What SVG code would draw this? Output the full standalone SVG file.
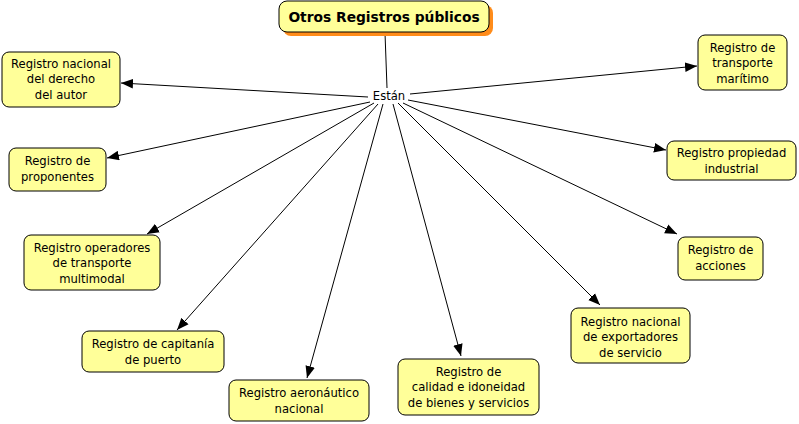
<svg xmlns="http://www.w3.org/2000/svg" width="799" height="424" viewBox="0 0 799 424">
<defs>
<marker id="ah" viewBox="0 0 10 8" refX="10" refY="4" markerWidth="12" markerHeight="10" markerUnits="userSpaceOnUse" orient="auto">
<path d="M0,0 L10,4 L0,8 z" fill="#000"/>
</marker>
</defs>
<style>
.box{fill:#ffff99;stroke:#000;stroke-width:1}
.t{font-family:"DejaVu Sans",Verdana,sans-serif;font-size:11.6px;fill:#000;text-anchor:middle}
.c{stroke:#000;stroke-width:1;fill:none}
.a{marker-end:url(#ah)}
</style>
<rect width="799" height="424" fill="#fff"/>
<g id="connectors">
<line class="c" x1="385" y1="33" x2="387" y2="88"/>
<line class="c a" x1="368" y1="97" x2="121" y2="83"/>
<line class="c a" x1="370" y1="102" x2="107" y2="158"/>
<line class="c a" x1="374" y1="103" x2="147" y2="234"/>
<line class="c a" x1="378" y1="104" x2="177" y2="330"/>
<line class="c a" x1="383" y1="104" x2="307" y2="378"/>
<line class="c a" x1="393" y1="104" x2="461" y2="356"/>
<line class="c a" x1="398" y1="103" x2="600" y2="305"/>
<line class="c a" x1="403" y1="103" x2="677" y2="234"/>
<line class="c a" x1="408" y1="100" x2="666" y2="150"/>
<line class="c a" x1="410" y1="94" x2="697" y2="66"/>
</g>
<g id="title">
<rect x="283" y="5" width="210" height="31" rx="8" fill="#ff8c1a"/>
<rect x="279" y="1" width="210" height="31" rx="8" class="box" stroke-width="1.5"/>
<text x="384" y="22" class="t" style="font-weight:bold;font-size:13.8px">Otros Registros públicos</text>
</g>
<g id="estan">
<text x="389" y="100" class="t">Están</text>
</g>
<g id="n1">
<rect x="2" y="52" width="118" height="55" rx="7" class="box"/>
<text class="t"><tspan x="61" y="68">Registro nacional</tspan><tspan x="61" y="83">del derecho</tspan><tspan x="61" y="99">del autor</tspan></text>
</g>
<g id="n2">
<rect x="9" y="148" width="97" height="43" rx="7" class="box"/>
<text class="t"><tspan x="57.5" y="165">Registro de</tspan><tspan x="57.5" y="181">proponentes</tspan></text>
</g>
<g id="n3">
<rect x="24" y="235" width="136" height="55" rx="7" class="box"/>
<text class="t"><tspan x="92" y="252">Registro operadores</tspan><tspan x="92" y="267">de transporte</tspan><tspan x="92" y="283">multimodal</tspan></text>
</g>
<g id="n4">
<rect x="82" y="331" width="142" height="41" rx="7" class="box"/>
<text class="t"><tspan x="153" y="348">Registro de capitanía</tspan><tspan x="153" y="364">de puerto</tspan></text>
</g>
<g id="n5">
<rect x="229" y="380" width="140" height="41" rx="7" class="box"/>
<text class="t"><tspan x="299" y="397">Registro aeronáutico</tspan><tspan x="299" y="413">nacional</tspan></text>
</g>
<g id="n6">
<rect x="398" y="359" width="141" height="56" rx="7" class="box"/>
<text class="t"><tspan x="468.5" y="376">Registro de</tspan><tspan x="468.5" y="391">calidad e idoneidad</tspan><tspan x="468.5" y="407">de bienes y servicios</tspan></text>
</g>
<g id="n7">
<rect x="571" y="308" width="119" height="55" rx="7" class="box"/>
<text class="t"><tspan x="630.5" y="326">Registro nacional</tspan><tspan x="630.5" y="341">de exportadores</tspan><tspan x="630.5" y="357">de servicio</tspan></text>
</g>
<g id="n8">
<rect x="678" y="237" width="85" height="43" rx="7" class="box"/>
<text class="t"><tspan x="720.5" y="254">Registro de</tspan><tspan x="720.5" y="270">acciones</tspan></text>
</g>
<g id="n9">
<rect x="667" y="141" width="129" height="39" rx="7" class="box"/>
<text class="t"><tspan x="731.5" y="157">Registro propiedad</tspan><tspan x="731.5" y="173">industrial</tspan></text>
</g>
<g id="n10">
<rect x="698" y="35" width="89" height="55" rx="7" class="box"/>
<text class="t"><tspan x="742.5" y="52">Registro de</tspan><tspan x="742.5" y="67">transporte</tspan><tspan x="742.5" y="83">marítimo</tspan></text>
</g>
</svg>
